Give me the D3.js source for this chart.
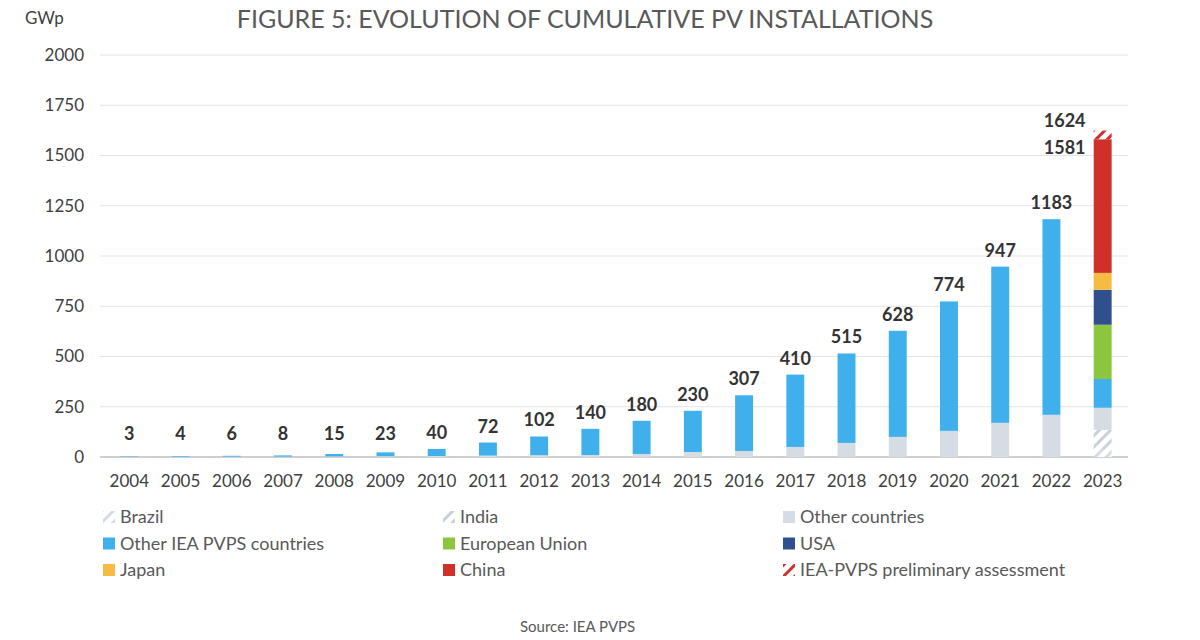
<!DOCTYPE html>
<html><head><meta charset="utf-8">
<script src="https://cdn.jsdelivr.net/npm/d3@7"></script>
<style>body{margin:0;background:#fff;font-family:Lato,"Open Sans",sans-serif}</style>
</head><body><svg id="c" width="1200" height="640"></svg>
<script>
const years=["2004","2005","2006","2007","2008","2009","2010","2011","2012","2013","2014","2015","2016","2017","2018","2019","2020","2021","2022","2023"];
const totals=[3,4,6,8,15,23,40,72,102,140,180,230,307,410,515,628,774,947,1183,1581];
const brazil=[0,0,0,0,0,0,0,0,0,0,0,0,0,0,0,0,0,0,0,40];
const india=[0,0,0,0,0,0,0,0,0,0,0,0,0,0,0,0,0,0,0,95];
const otherCountries=[1,1,2,2,3,4,5,7,9,10,15,25,30,50,70,100,130,170,210,110];
const otherIEA=[2,3,4,6,12,19,35,65,93,130,165,205,277,360,445,528,644,777,973,143];
const eu=[0,0,0,0,0,0,0,0,0,0,0,0,0,0,0,0,0,0,0,270];
const usa=[0,0,0,0,0,0,0,0,0,0,0,0,0,0,0,0,0,0,0,174];
const japan=[0,0,0,0,0,0,0,0,0,0,0,0,0,0,0,0,0,0,0,84];
const china=[0,0,0,0,0,0,0,0,0,0,0,0,0,0,0,0,0,0,0,665];
const prelim=[0,0,0,0,0,0,0,0,0,0,0,0,0,0,0,0,0,0,0,43];
const yTicks=[0,250,500,750,1000,1250,1500,1750,2000];
const seriesNames=["Brazil","India","Other countries","Other IEA PVPS countries","European Union","USA","Japan","China","IEA-PVPS preliminary assessment"];
const seriesData=[brazil,india,otherCountries,otherIEA,eu,usa,japan,china,prelim];
const colors=["url(#hB)","url(#hI)","#d6dce4","#3fb0ec","#8cc63f","#2f4f8f","#f6bb42","#d0302a","url(#hP)"];
const legendCol=[0,1,2,0,1,2,0,1,2];

const svg=d3.select("#c");
const defs=svg.append("defs");
function hatch(id,col,bg){const p=defs.append("pattern").attr("id",id).attr("patternUnits","userSpaceOnUse").attr("width",8).attr("height",8).attr("patternTransform","rotate(45)");
 p.append("rect").attr("width",8).attr("height",8).attr("fill",bg);
 p.append("rect").attr("width",3).attr("height",8).attr("fill",col);}
hatch("hB","#d6dce4","#fff");hatch("hI","#c8d0dc","#fff");hatch("hP","#d0302a","#fff");

const x=d3.scaleBand().domain(years).range([105,1127]).paddingInner(0.65).paddingOuter(0.3);
const y=d3.scaleLinear().domain([0,2000]).range([457,55]);

const grid=svg.append("g");
yTicks.forEach(t=>{grid.append("line").attr("x1",100).attr("x2",1128).attr("y1",y(t)).attr("y2",y(t)).attr("stroke",t===0?"#bfbfbf":"#e3e3e3").attr("stroke-width",t===0?1.5:1);});
const ya=svg.append("g").attr("transform","translate(84,0)").call(d3.axisLeft(y).tickValues(yTicks).tickFormat(d3.format("d")).tickSize(0).tickPadding(0));
ya.select(".domain").remove();
ya.selectAll("text").attr("font-size",17).attr("fill","#404040").attr("font-family","Lato,sans-serif");
const xa=svg.append("g").attr("transform","translate(0,470)").call(d3.axisBottom(x).tickSize(0).tickPadding(5));
xa.select(".domain").remove();
xa.selectAll("text").attr("font-size",17).attr("fill","#404040").attr("font-family","Lato,sans-serif");

const rows=years.map((yr,i)=>{const o={year:yr};seriesNames.forEach((s,k)=>o[s]=seriesData[k][i]);return o;});
const stack=d3.stack().keys(seriesNames)(rows);
svg.append("g").selectAll("g").data(stack).join("g").attr("fill",(d,i)=>colors[i])
 .selectAll("rect").data(d=>d).join("rect")
 .attr("x",d=>x(d.data.year)).attr("width",x.bandwidth())
 .attr("y",d=>y(d[1])).attr("height",d=>Math.max(0,y(d[0])-y(d[1])));

const lab=svg.append("g").attr("font-size",18).attr("font-weight","bold").attr("fill","#333").attr("text-anchor","middle");
years.forEach((yr,i)=>{
 if(yr==="2023"){
  const cx=x(yr)+x.bandwidth()/2-38;
  lab.append("text").attr("x",cx).attr("y",y(totals[i]+prelim[i])-4).text(totals[i]+prelim[i]);
  lab.append("text").attr("x",cx).attr("y",y(totals[i])+15).text(totals[i]);
 } else {
  lab.append("text").attr("x",x(yr)+x.bandwidth()/2).attr("y",Math.min(y(totals[i])-10,y(0)-17)).text(totals[i]);
 }
});

svg.append("text").attr("x",585).attr("y",28).attr("text-anchor","middle").attr("font-size",25).attr("fill","#595959").text("FIGURE 5: EVOLUTION OF CUMULATIVE PV INSTALLATIONS");
svg.append("text").attr("x",25).attr("y",24).attr("font-size",17).attr("fill","#404040").text("GWp");

const lg=svg.append("g").attr("font-size",18).attr("fill","#595959");
seriesNames.forEach((s,k)=>{
 const cx=[103,443,783][legendCol[k]], cy=517+Math.floor(k/3)*26.5;
 lg.append("rect").attr("x",cx).attr("y",cy-6).attr("width",12).attr("height",12).attr("fill",colors[k]);
 lg.append("text").attr("x",cx+17).attr("y",cy+6).text(s);
});
svg.append("text").attr("x",520).attr("y",632).attr("font-size",15).attr("fill","#595959").text("Source: IEA PVPS");
</script></body></html>
